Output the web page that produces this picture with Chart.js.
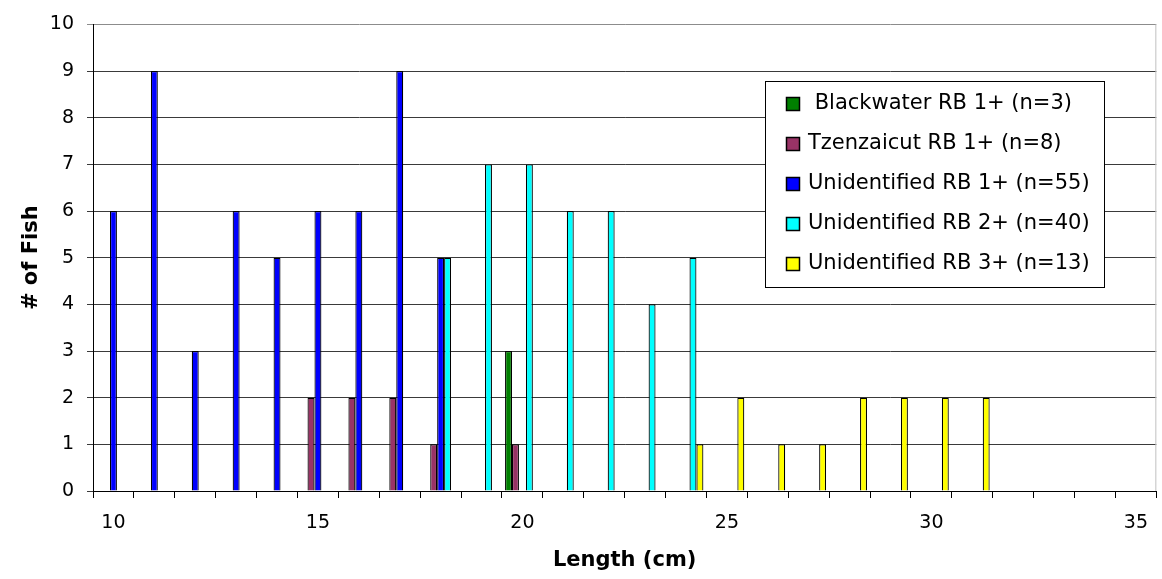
<!DOCTYPE html>
<html>
<head>
<meta charset="utf-8">
<script src="https://cdn.jsdelivr.net/npm/chart.js@4/dist/chart.umd.min.js"></script>
<style>
  html, body { margin: 0; padding: 0; background: #fff; }
  #wrap { width: 1162px; height: 579px; position: relative; }
</style>
</head>
<body>
<div id="wrap"><canvas id="chart"></canvas></div>
<script>
// fish length classes (cm)
var lengths = ['10','11','12','13','14','15','16','17','18','19','20','21','22','23','24','25','26','27','28','29','30','31','32','33','34','35'];

// counts per length class
var blackwater = [0,0,0,0,0,0,0,0,0,0,3,0,0,0,0,0,0,0,0,0,0,0,0,0,0,0];
var tzenzaicut = [0,0,0,0,0,2,2,2,1,0,1,0,0,0,0,0,0,0,0,0,0,0,0,0,0,0];
var unidRB1   = [6,9,3,6,5,6,6,9,5,0,0,0,0,0,0,0,0,0,0,0,0,0,0,0,0,0];
var unidRB2   = [0,0,0,0,0,0,0,0,5,7,7,6,6,4,5,0,0,0,0,0,0,0,0,0,0,0];
var unidRB3   = [0,0,0,0,0,0,0,0,0,0,0,0,0,0,1,2,1,1,2,2,2,2,0,0,0,0];

var seriesNames = [' Blackwater RB 1+ (n=3)', 'Tzenzaicut RB 1+ (n=8)', 'Unidentified RB 1+ (n=55)', 'Unidentified RB 2+ (n=40)', 'Unidentified RB 3+ (n=13)'];
var seriesColors = ['#008000', '#993366', '#0000ff', '#00ffff', '#ffff00'];

var FONT = "'DejaVu Sans', 'Liberation Sans', Arial, sans-serif";

function blankZeros(arr) {
  return arr.map(function (v) { return v === 0 ? null : v; });
}

var datasets = [blackwater, tzenzaicut, unidRB1, unidRB2, unidRB3].map(function (vals, i) {
  return {
    label: seriesNames[i],
    data: blankZeros(vals),
    backgroundColor: seriesColors[i],
    borderColor: '#000',
    borderWidth: 1.2,
    borderSkipped: 'bottom',
    categoryPercentage: 0.85,
    barPercentage: 1.0
  };
});

// legend box drawn inside the plot, like the original
var boxLegend = {
  id: 'boxLegend',
  afterDraw: function (chart) {
    var ctx = chart.ctx;
    var x0 = 765, y0 = 81, w = 339, h = 206;
    ctx.save();
    ctx.fillStyle = '#fff';
    ctx.fillRect(x0, y0, w, h);
    ctx.strokeStyle = '#000';
    ctx.lineWidth = 1;
    ctx.strokeRect(x0 + 0.5, y0 + 0.5, w, h);
    ctx.font = '21px ' + FONT;
    ctx.textBaseline = 'middle';
    chart.data.datasets.forEach(function (ds, i) {
      var cy = y0 + 22 + i * 40;
      ctx.fillStyle = ds.backgroundColor;
      ctx.fillRect(786, cy - 6, 14, 14);
      ctx.strokeStyle = '#000';
      ctx.lineWidth = 1.5;
      ctx.strokeRect(786.5, cy - 5.5, 13, 13);
      ctx.fillStyle = '#000';
      ctx.fillText(ds.label, 808, cy + 1);
    });
    ctx.restore();
  }
};

// light grey right edge of the plot area
var plotEdge = {
  id: 'plotEdge',
  beforeDatasetsDraw: function (chart) {
    var a = chart.chartArea, ctx = chart.ctx;
    ctx.save();
    ctx.strokeStyle = '#c0c0c0';
    ctx.lineWidth = 1;
    ctx.beginPath();
    ctx.moveTo(a.right - 0.5, a.top);
    ctx.lineTo(a.right - 0.5, a.bottom);
    ctx.stroke();
    ctx.restore();
  }
};

new Chart(document.getElementById('chart'), {
  type: 'bar',
  data: { labels: lengths, datasets: datasets },
  options: {
    responsive: true,
    maintainAspectRatio: false,
    animation: false,
    layout: { padding: { top: 22, right: 1, left: 0, bottom: 0 } },
    plugins: {
      legend: { display: false },
      tooltip: { enabled: false }
    },
    scales: {
      x: {
        type: 'category',
        offset: true,
        grid: { offset: true, drawOnChartArea: false, drawTicks: true, tickLength: 7, color: '#000' },
        border: { color: '#000' },
        ticks: {
          autoSkip: false,
          maxRotation: 0,
          padding: 14,
          color: '#000',
          font: { family: FONT, size: 19 },
          callback: function (v, i) { return Number(lengths[i]) % 5 === 0 ? lengths[i] : ''; }
        },
        title: {
          display: true,
          text: 'Length (cm)',
          color: '#000',
          font: { family: FONT, size: 21, weight: 'bold' },
          padding: { top: 0, bottom: 6 }
        },
        afterFit: function (scale) { scale.height = 88; }
      },
      y: {
        min: 0,
        max: 10,
        ticks: {
          stepSize: 1,
          padding: 13,
          color: '#000',
          font: { family: FONT, size: 19 }
        },
        grid: {
          tickLength: 6,
          color: function (c) { return c.tick && c.tick.value === 10 ? '#8c8c8c' : '#3a3a3a'; }
        },
        border: { color: '#000' },
        title: {
          display: true,
          text: '# of Fish',
          color: '#000',
          font: { family: FONT, size: 21, weight: 'bold' },
          padding: { top: 19, bottom: 0 }
        },
        afterFit: function (scale) { scale.width = 93; }
      }
    }
  },
  plugins: [plotEdge, boxLegend]
});
</script>
</body>
</html>
